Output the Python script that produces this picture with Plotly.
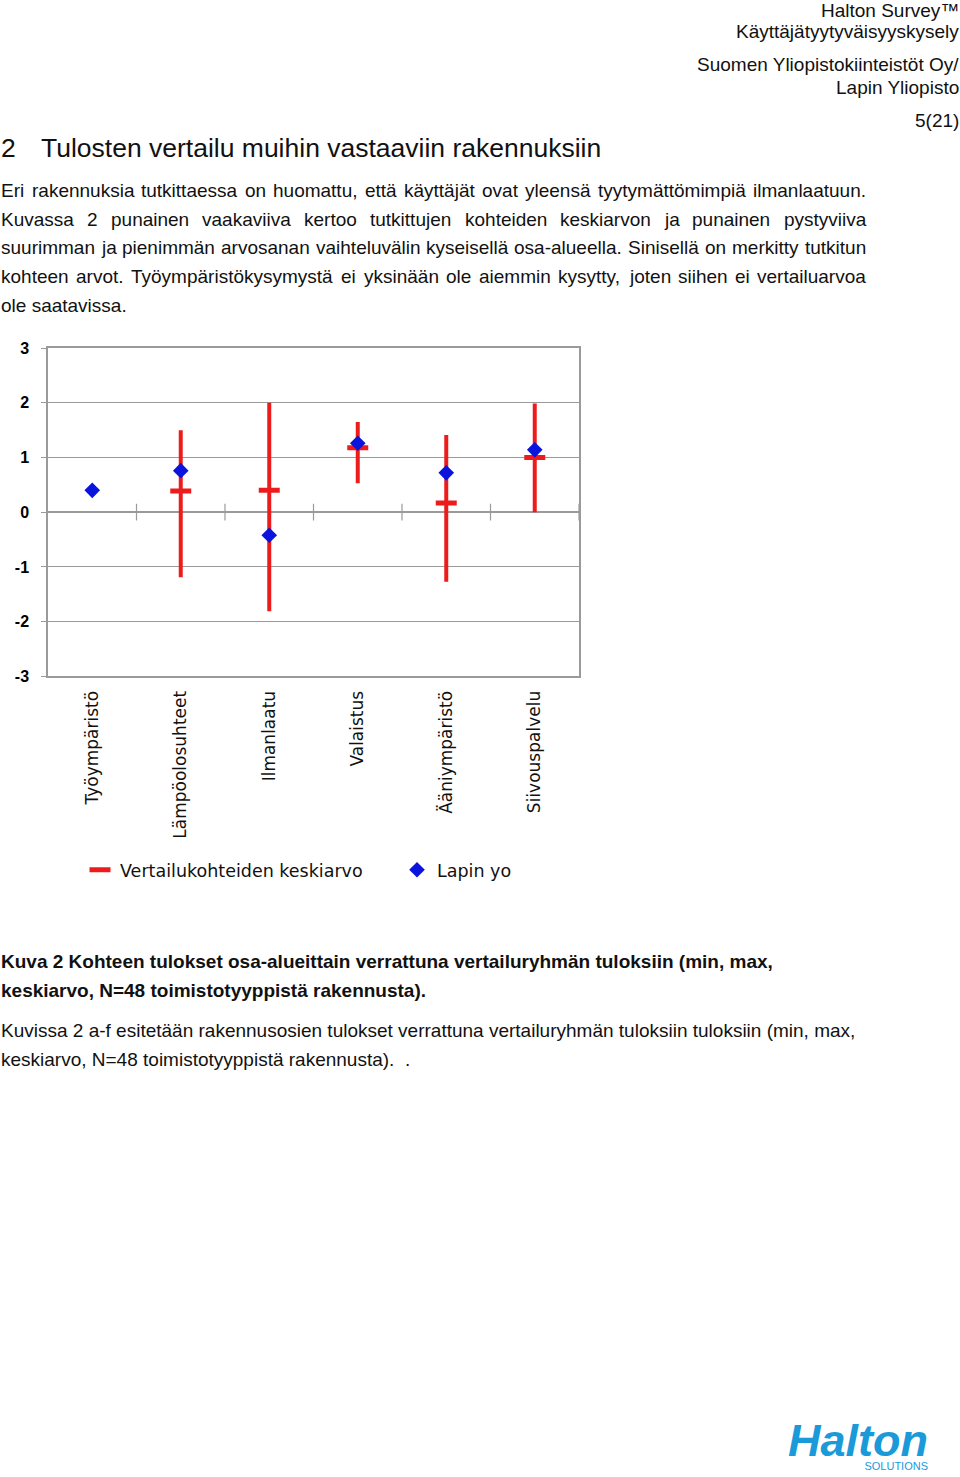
import plotly.graph_objects as go

W, H = 960, 1477

categories = ["Työympäristö", "Lämpöolosuhteet", "Ilmanlaatu", "Valaistus", "Ääniympäristö", "Siivouspalvelu"]
lapin_yo = [0.40, 0.76, -0.42, 1.26, 0.72, 1.14]
ref_mean = [None, 0.39, 0.40, 1.18, 0.17, 1.00]
ref_max = [None, 1.50, 2.00, 1.65, 1.41, 1.99]
ref_min = [None, -1.19, -1.81, 0.53, -1.27, 0.00]
y_ticks = [-3, -2, -1, 0, 1, 2, 3]

RED = "#EC1C1C"
BLUE = "#0A14DC"
GRID = "#9A9A9A"
LOGO = "#1A9AD9"

# empirical vertical calibration of the rendered page
Y_OFF, Y_SCALE = 7.0, 0.991

def px(x):
    return x / W

def py(y):
    return 1 - ((y - Y_OFF) / Y_SCALE) / H

# Arial / Liberation Sans advance widths (per 1000 em)
REG = {' ': 278, '.': 278, ',': 278, '-': 333, '(': 333, ')': 333, '=': 584, '/': 278,
       'a': 556, 'b': 556, 'c': 500, 'd': 556, 'e': 556, 'f': 278, 'g': 556, 'h': 556, 'i': 222,
       'j': 222, 'k': 500, 'l': 222, 'm': 833, 'n': 556, 'o': 556, 'p': 556, 'q': 556, 'r': 333,
       's': 500, 't': 278, 'u': 556, 'v': 500, 'w': 722, 'x': 500, 'y': 500, 'z': 500,
       'ä': 556, 'ö': 556, 'å': 556,
       'A': 667, 'B': 667, 'C': 722, 'D': 722, 'E': 667, 'F': 611, 'G': 778, 'H': 722, 'I': 278,
       'J': 500, 'K': 667, 'L': 556, 'M': 833, 'N': 722, 'O': 778, 'P': 667, 'Q': 778, 'R': 722,
       'S': 667, 'T': 611, 'U': 722, 'V': 667, 'W': 944, 'X': 667, 'Y': 667, 'Z': 611, 'Ä': 667, 'Ö': 778}

def text_w(s, size):
    return sum(REG.get(c, 556) for c in s) * size / 1000.0

annotations = []

def txt(x, y, s, size=19, anchor="left", bold=False, color="#111", family="Liberation Sans",
        italic=False, yanchor="middle", align="left"):
    annotations.append(dict(
        x=px(x), y=py(y), xref="paper", yref="paper", text=s, showarrow=False,
        xanchor=anchor, yanchor=yanchor, borderpad=0, align=align,
        font=dict(family=family, size=size, color=color,
                  weight="bold" if bold else "normal",
                  style="italic" if italic else "normal"),
    ))

def justified(x0, x1, y, line, size):
    words = line.split(" ")
    total = sum(text_w(w, size) for w in words)
    gap = (x1 - x0 - total) / max(len(words) - 1, 1)
    x = x0
    for w in words:
        txt(x, y, w, size=size)
        x += text_w(w, size) + gap

xs = list(range(len(categories)))
err_up = [None if m is None else mx - m for m, mx in zip(ref_mean, ref_max)]
err_dn = [None if m is None else m - mn for m, mn in zip(ref_mean, ref_min)]

fig = go.Figure()

# boundary tick marks on the zero line
fig.add_trace(go.Scatter(
    x=[i + 0.5 for i in xs], y=[0] * len(xs), mode="markers",
    marker=dict(symbol="line-ns", size=12, line=dict(color=GRID, width=1.2)),
    showlegend=False, hoverinfo="skip"))

fig.add_trace(go.Scatter(
    x=xs, y=ref_mean, mode="markers", name="Vertailukohteiden keskiarvo",
    marker=dict(symbol="line-ew", size=15, color=RED, line=dict(color=RED, width=5)),
    error_y=dict(type="data", symmetric=False, array=err_up, arrayminus=err_dn,
                 color=RED, thickness=4, width=0),
))
fig.add_trace(go.Scatter(
    x=xs, y=lapin_yo, mode="markers", name="Lapin yo",
    marker=dict(symbol="diamond", size=12, color=BLUE),
))

fig.update_layout(
    width=W, height=H,
    margin=dict(l=0, r=0, t=0, b=0),
    paper_bgcolor="white", plot_bgcolor="white",
    xaxis=dict(
        domain=[px(48), px(579)], range=[-0.5, 5.5],
        tickvals=xs, ticktext=categories, tickangle=-90,
        tickfont=dict(family="DejaVu Sans", size=17, color="#111"),
        showgrid=False, zeroline=False, showline=True, mirror=True,
        linecolor=GRID, linewidth=1.5, ticks="", ticklabelstandoff=6,
    ),
    yaxis=dict(
        domain=[py(677), py(348)], range=[-3, 3],
        tickvals=y_ticks, ticktext=[str(v) for v in y_ticks],
        tickfont=dict(family="Liberation Sans", size=16, color="#000", weight="bold"),
        showgrid=True, gridcolor=GRID, gridwidth=1.2,
        zeroline=True, zerolinecolor=GRID, zerolinewidth=1.5,
        showline=True, mirror=True, linecolor=GRID, linewidth=1.5,
        ticks="outside", ticklen=5, tickcolor=GRID, ticklabelstandoff=9,
    ),
    legend=dict(
        orientation="h", x=px(80), y=py(871), xanchor="left", yanchor="middle",
        font=dict(family="DejaVu Sans", size=17.5, color="#111"),
        entrywidth=272, entrywidthmode="pixels", bgcolor="rgba(0,0,0,0)",
    ),
    showlegend=True,
)

# header
txt(960, 10, "Halton Survey™", size=19, anchor="right")
txt(960, 31, "Käyttäjätyytyväisyyskysely", size=19, anchor="right")
txt(960, 64, "Suomen Yliopistokiinteistöt Oy/", size=19, anchor="right")
txt(960, 87, "Lapin Yliopisto", size=19, anchor="right")
txt(960, 120, "5(21)", size=19, anchor="right")

# title
txt(0, 147, "2", size=26.5)
txt(40, 147, "Tulosten vertailu muihin vastaaviin rakennuksiin", size=26.5)

para = [
    "Eri rakennuksia tutkittaessa on huomattu, että käyttäjät ovat yleensä tyytymättömimpiä ilmanlaatuun.",
    "Kuvassa 2 punainen vaakaviiva kertoo tutkittujen kohteiden keskiarvon ja punainen pystyviiva",
    "suurimman ja pienimmän arvosanan vaihteluvälin kyseisellä osa-alueella. Sinisellä on merkitty tutkitun",
    "kohteen arvot. Työympäristökysymystä ei yksinään ole aiemmin kysytty, joten siihen ei vertailuarvoa",
    "ole saatavissa.",
]
for i, line in enumerate(para):
    y = 190 + i * 28.8
    if i < len(para) - 1:
        justified(0, 865, y, line, 19)
    else:
        txt(0, y, line, size=19)

caption = [
    "Kuva 2 Kohteen tulokset osa-alueittain verrattuna vertailuryhmän tuloksiin (min, max,",
    "keskiarvo, N=48 toimistotyyppistä rakennusta).",
]
for i, line in enumerate(caption):
    txt(0, 963 + i * 29, line, size=19, bold=True)

para2 = [
    "Kuvissa 2 a-f esitetään rakennusosien tulokset verrattuna vertailuryhmän tuloksiin tuloksiin (min, max,",
    "keskiarvo, N=48 toimistotyyppistä rakennusta).  .",
]
for i, line in enumerate(para2):
    txt(0, 1032 + i * 29, line, size=19)

# logo (one annotation so the two lines do not collide)
txt(929, 1476,
    "<b><i><span style='font-size:45px'>Halton</span></i></b><br>SOLUTIONS",
    size=11, anchor="right", color=LOGO, yanchor="bottom", align="right")

fig.update_layout(annotations=annotations)

fig.write_html("out.html")
